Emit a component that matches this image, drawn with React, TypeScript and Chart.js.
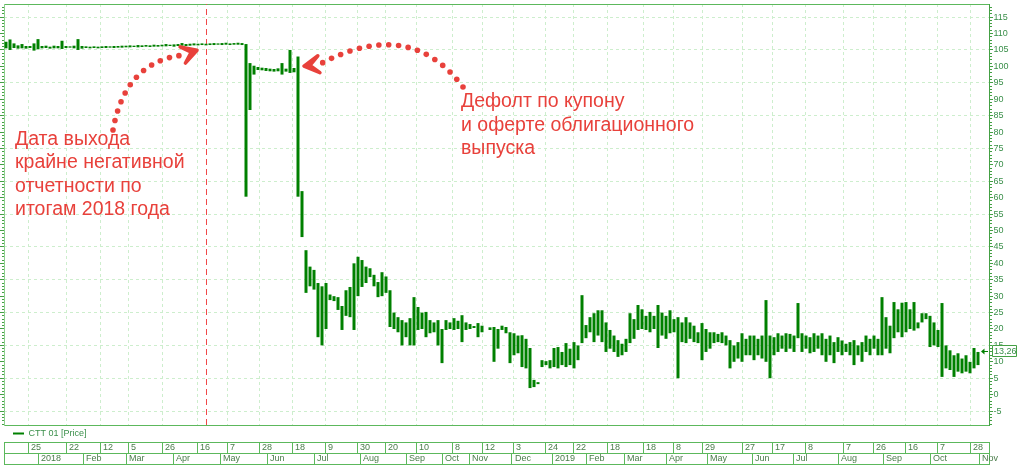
import React, { useEffect, useRef } from 'react';
import { Chart, registerables } from 'chart.js';

Chart.register(...registerables);

// ---------- data (one bar per trading-session slot) ----------
const seriesLabel = 'CTT 01 [Price]';

const priceLow: (number | null)[] = [
  105.5, 105.0, 105.6, 105.4, 105.5, 105.4, 105.6, 104.8, 105.2, 105.5,
  105.6, 105.4, 105.5, 105.5, 105.3, 105.6, 105.7, 105.5, 105.0, 105.4,
  105.6, 105.5, 105.6, 105.5, 105.6, 105.6, 105.7, 105.6, 105.7, 105.7,
  105.8, 105.8, 105.9, 105.8, 105.9, 106.0, 105.9, 106.0, 106.0, 106.1,
  106.1, 106.2, 106.0, 106.2, 106.3, 106.2, 106.3, 106.4, 106.4, 106.5,
  106.4, 106.5, 106.5, 106.6, 106.5, 106.6, 106.5, 106.6, 106.6, 106.5,
  60.3, 86.7, 97.5, 98.9, 98.8, 98.6, 98.5, 98.4, 98.5, 97.5,
  98.4, 98.0, 98.2, 60.3, 48, 31, 33, 32, 17.5, 15,
  20, 28.8, 28.5, 25.8, 19.7, 24, 23.6, 19.7, 30, 32.8,
  34, 35.8, 33, 29.7, 30, 31, 20.6, 20, 19, 15,
  17.5, 15, 15, 19.7, 20, 17.5, 18.7, 19, 15, 9.6,
  19.7, 20, 19.7, 20, 16, 19.7, 20, 20.3, 17.5, 19,
  null, 19.7, 10, 14, 19.7, 18.7, 9.6, 12, 12.6, 8.4,
  8, 2, 2.3, 3.2, 8.4, 9, 8, 8.4, 8, 9,
  8.4, 9, 8, 10.5, 15.7, 17.2, 19, 16, 18, 16,
  13, 14, 13, 11.5, 12, 13, 15.7, 17, 19.7, 20,
  19.7, 19, 20, 14.2, 18, 17, 18.7, 19, 5, 16,
  15.7, 17, 16, 15.7, 10.5, 13, 14, 15.7, 16, 15.7,
  15, 8, 10, 11, 10, 12, 12, 10.5, 12, 11,
  10, 5, 12, 13, 14, 13, 14, 13, 17.2, 13,
  14, 12.6, 13, 14, 12, 10, 12, 9.6, 13, 12,
  13, 12, 9, 12, 10, 13, 12, 14, 12, 12,
  14, 12.6, 17.2, 19, 17.5, 19, 20, 19.5, 20.2, 22,
  23, 14.5, 15, 14.5, 5.4, 8, 7.5, 5.4, 7, 6.5,
  7, 6.5, 8, 9, null, null,
];

const priceHigh: (number | null)[] = [
  107.5, 108.2, 107.0, 106.4, 106.8, 106.2, 106.2, 107.0, 108.3, 106.2,
  106.3, 106.0, 106.3, 106.2, 107.8, 106.2, 106.1, 106.3, 108.3, 106.2,
  106.1, 106.0, 106.1, 106.0, 106.1, 106.2, 106.1, 106.2, 106.2, 106.3,
  106.3, 106.4, 106.3, 106.5, 106.4, 106.5, 106.4, 106.6, 106.5, 106.6,
  106.8, 106.6, 106.7, 106.8, 107.1, 106.8, 106.9, 107.0, 106.9, 107.0,
  106.9, 107.0, 107.1, 107.0, 107.1, 107.2, 107.0, 107.1, 107.2, 107.1,
  106.8, 101, 100.2, 99.8, 99.6, 99.5, 99.3, 99.2, 99.4, 101,
  99.3, 105, 99.5, 103, 62, 44, 39, 38, 34, 33,
  34, 30.5, 30, 29.7, 27, 31.8, 32.8, 40, 42, 41,
  39, 38.5, 36.5, 34.3, 37.3, 36, 31.8, 25, 23.6, 22.7,
  22, 23.3, 29.7, 26.7, 25, 25.2, 22.7, 22, 22.7, 20,
  22.7, 22, 23.3, 22.5, 24.2, 22, 21.5, 20.9, 21.8, 21,
  null, 20.5, 20.6, 20, 21, 20.6, 19, 18.7, 18, 18.1,
  17, 14.2, 4.5, 3.8, 10.5, 10.2, 10.5, 14.2, 14.5, 13,
  15.7, 14, 16, 15, 30.3, 21.2, 23.6, 24.8, 25.7, 25.7,
  22, 19.7, 18, 16.6, 15.5, 17, 24.8, 23, 27.3, 26,
  24, 25.2, 24, 27.3, 25, 24, 25.7, 23, 23.6, 22,
  23.6, 22, 21, 19, 21.8, 20, 19, 19, 18.5, 19,
  18, 16.6, 15, 16, 18.7, 17, 18, 18, 17, 18,
  28.8, 18, 17.5, 18.7, 18, 18.7, 18.5, 18, 27.9, 18.7,
  18, 17.5, 18.7, 18, 18.7, 17, 18, 16, 17.5, 16.5,
  15.5, 16, 16.6, 15, 16, 18, 17, 18, 17, 29.7,
  23.6, 21, 28.2, 26, 28, 28.2, 26, 28.2, 22, 24.8,
  24.8, 24, 22, 19.7, 27.9, 15, 13.5, 12, 12.6, 11,
  12, 10, 14.2, 13, null, null,
];

const lastPrice = 13.26;
const lastPriceText = '13,26';
const reportSlot = 50.625; // publication of the 2018 annual report

// bottom axis: session-slot positions of the date ticks
const dayTickSlots = [6, 15.5, 24, 31, 39.5, 48.25, 55.75, 63.75, 72, 80.25, 88.25, 95.25, 103, 112, 119.5,
  127.25, 135.25, 142.25, 150.75, 159.75, 167.25, 174.5, 184.5, 192, 200.25, 209.75, 217.25, 225.25, 233.25, 241.5];
const dayTickLabels = ['25', '22', '12', '5', '26', '16', '7', '28', '18', '9', '30', '20', '10', '8', '12',
  '3', '24', '22', '18', '18', '8', '29', '27', '17', '8', '7', '26', '16', '7', '28'];
const monthTickSlots = [8.5, 19.75, 30.5, 42.25, 54, 65.75, 77.5, 89, 100.5, 109.5, 116.25, 127,
  137, 145.5, 155, 165.5, 175.75, 187, 197.25, 208.5, 219.75, 231.5, 243.75];
const monthTickLabels = ['2018', 'Feb', 'Mar', 'Apr', 'May', 'Jun', 'Jul', 'Aug', 'Sep', 'Oct', 'Nov', 'Dec',
  '2019', 'Feb', 'Mar', 'Apr', 'May', 'Jun', 'Jul', 'Aug', 'Sep', 'Oct', 'Nov'];

const xMax = 246.25;
const yMin = -9.25;
const yMax = 119;
const yTickValues: number[] = [];
for (let v = -9; v <= 118; v++) yTickValues.push(v);

const note1Lines = ['Дата выхода', 'крайне негативной', 'отчетности по', 'итогам 2018 года'];
const note2Lines = ['Дефолт по купону', 'и оферте облигационного', 'выпуска'];

// annotation anchors in data coordinates (slot, price)
const note1Anchor = { x: 2.75, y: 76.05 };
const note2Anchor = { x: 114.25, y: 87.6 };
const arrow1 = { start: { x: 27.25, y: 80.6 }, ctrl: { x: 30.25, y: 101.3 }, end: { x: 44.5, y: 103.4 }, tip: { x: 48.25, y: 104.9 } };
const arrow2 = { start: { x: 114.75, y: 93.7 }, ctrl: { x: 101.5, y: 115.3 }, end: { x: 79, y: 100.7 }, tip: { x: 75, y: 100.1 } };

// ---------- styles ----------
const FONT = "'Liberation Sans', Arial, Helvetica, sans-serif";
const BAR_GREEN = '#008000';
const AXIS_GREEN = '#44a044';
const LABEL_GREEN = '#3a8f4a';
const DATE_TEXT = '#4a7d4a';
const BOX_GREEN = '#5cb85c';
const GRID_GREEN = '#cdeecd';
const RED = '#e8413b';

function drawDottedArrow(ctx: CanvasRenderingContext2D, p0: any, c: any, p1: any, tip: any) {
  const spacing = 9.6;
  const dots = [p0];
  let prev = p0;
  let acc = 0;
  const N = 400;
  for (let i = 1; i <= N; i++) {
    const t = i / N;
    const x = (1 - t) * (1 - t) * p0.x + 2 * (1 - t) * t * c.x + t * t * p1.x;
    const y = (1 - t) * (1 - t) * p0.y + 2 * (1 - t) * t * c.y + t * t * p1.y;
    acc += Math.hypot(x - prev.x, y - prev.y);
    if (acc >= spacing) {
      dots.push({ x, y });
      acc = 0;
    }
    prev = { x, y };
  }
  ctx.fillStyle = RED;
  dots.forEach((p) => {
    ctx.beginPath();
    ctx.arc(p.x, p.y, 2.8, 0, Math.PI * 2);
    ctx.fill();
  });
  const dx = tip.x - p1.x;
  const dy = tip.y - p1.y;
  const len = Math.hypot(dx, dy) || 1;
  const ux = dx / len;
  const uy = dy / len;
  const nx = -uy;
  const ny = ux;
  const L = 15;
  const W = 8.5;
  const notch = 6;
  ctx.beginPath();
  ctx.moveTo(tip.x, tip.y);
  ctx.lineTo(tip.x - ux * L + nx * W, tip.y - uy * L + ny * W);
  ctx.lineTo(tip.x - ux * notch, tip.y - uy * notch);
  ctx.lineTo(tip.x - ux * L - nx * W, tip.y - uy * L - ny * W);
  ctx.closePath();
  ctx.lineJoin = 'round';
  ctx.lineWidth = 3.5;
  ctx.strokeStyle = RED;
  ctx.fill();
  ctx.stroke();
}

const annotationPlugin = {
  id: 'bondNotes',
  afterLayout(chart: any) {
    if (chart.legend) chart.legend.left += 5;
  },
  afterDraw(chart: any) {
    const { ctx } = chart;
    const xs = chart.scales.x;
    const ys = chart.scales.y;
    const P = (p: any) => ({ x: xs.getPixelForValue(p.x), y: ys.getPixelForValue(p.y) });
    ctx.save();

    // notes
    ctx.fillStyle = RED;
    ctx.font = `19.5px ${FONT}`;
    ctx.textAlign = 'left';
    ctx.textBaseline = 'alphabetic';
    const a1 = P(note1Anchor);
    note1Lines.forEach((t, i) => ctx.fillText(t, a1.x, a1.y + i * 23.5));
    const a2 = P(note2Anchor);
    note2Lines.forEach((t, i) => ctx.fillText(t, a2.x, a2.y + i * 23.5));

    drawDottedArrow(ctx, P(arrow1.start), P(arrow1.ctrl), P(arrow1.end), P(arrow1.tip));
    drawDottedArrow(ctx, P(arrow2.start), P(arrow2.ctrl), P(arrow2.end), P(arrow2.tip));

    // last price marker
    const yp = Math.round(ys.getPixelForValue(lastPrice));
    const bx = Math.round(ys.left) + 3;
    ctx.fillStyle = '#ffffff';
    ctx.fillRect(bx, yp - 6, 25, 12);
    ctx.strokeStyle = AXIS_GREEN;
    ctx.lineWidth = 1;
    ctx.strokeRect(bx + 0.5, yp - 5.5, 24, 11);
    ctx.fillStyle = LABEL_GREEN;
    ctx.font = `9px ${FONT}`;
    ctx.textBaseline = 'middle';
    ctx.fillText(lastPriceText, bx + 2, yp + 0.5);
    const ax = Math.round(ys.left) - 8;
    ctx.fillStyle = BAR_GREEN;
    ctx.beginPath();
    ctx.moveTo(ax, yp + 0.5);
    ctx.lineTo(ax + 3.5, yp - 2.5);
    ctx.lineTo(ax + 3.5, yp + 3.5);
    ctx.closePath();
    ctx.fill();
    ctx.strokeStyle = BAR_GREEN;
    ctx.beginPath();
    ctx.moveTo(ax + 3, yp + 0.5);
    ctx.lineTo(ax + 7, yp + 0.5);
    ctx.stroke();

    ctx.restore();
  },
};

export default function App() {
  const canvasRef = useRef<HTMLCanvasElement | null>(null);

  useEffect(() => {
    const canvas = canvasRef.current;
    if (!canvas) return;

    const barData: any[] = [];
    priceLow.forEach((lo, i) => {
      const hi = priceHigh[i];
      if (lo != null && hi != null) barData.push({ x: i + 0.5, y: [lo, hi] });
    });

    const dayTicks = [0, ...dayTickSlots, xMax];
    const dayLabels = ['', ...dayTickLabels, ''];
    const monthTicks = [0, ...monthTickSlots, xMax];
    const monthLabels = ['', ...monthTickLabels, ''];
    const isMajor = (v: number) => v % 5 === 0;

    const rowAxis = (weight: number, ticksArr: number[], labels: string[]) => ({
      type: 'linear',
      axis: 'x',
      position: 'bottom',
      weight,
      min: 0,
      max: xMax,
      offset: false,
      afterBuildTicks: (s: any) => {
        s.ticks = ticksArr.map((v) => ({ value: v }));
      },
      afterFit: (s: any) => {
        s.height = 11;
      },
      ticks: {
        autoSkip: false,
        maxRotation: 0,
        minRotation: 0,
        align: 'start',
        labelOffset: 3,
        padding: -10.9,
        color: DATE_TEXT,
        font: { size: 9, family: FONT },
        callback: (_v: any, i: number) => labels[i],
      },
      grid: { drawOnChartArea: false, drawTicks: true, tickLength: 11, tickColor: BOX_GREEN, tickWidth: 1, offset: false },
      border: { display: true, color: BOX_GREEN, width: 1 },
    });

    const chart = new Chart(canvas, {
      type: 'bar',
      data: {
        datasets: [
          {
            type: 'bar',
            label: seriesLabel,
            data: barData,
            backgroundColor: BAR_GREEN,
            borderWidth: 0,
            barThickness: 3,
            inflateAmount: 0,
            grouped: false,
            xAxisID: 'x',
            yAxisID: 'y',
          } as any,
          {
            type: 'line',
            label: 'report',
            data: [
              { x: reportSlot, y: yMin },
              { x: reportSlot, y: yMax },
            ],
            borderColor: '#f04848',
            borderWidth: 1,
            borderDash: [6, 4],
            pointRadius: 0,
            xAxisID: 'x',
            yAxisID: 'y',
          } as any,
        ],
      },
      options: {
        responsive: false,
        animation: false,
        devicePixelRatio: 1,
        events: [],
        layout: { padding: { top: 4, bottom: 2, left: 0, right: 0 } },
        plugins: {
          tooltip: { enabled: false },
          legend: {
            display: true,
            position: 'bottom',
            align: 'start',
            fullSize: false,
            maxHeight: 17,
            labels: {
              usePointStyle: true,
              pointStyle: 'line',
              pointStyleWidth: 11,
              padding: 4,
              color: LABEL_GREEN,
              font: { size: 9, family: FONT },
              generateLabels: () => [
                {
                  text: seriesLabel,
                  fillStyle: BAR_GREEN,
                  strokeStyle: BAR_GREEN,
                  lineWidth: 2,
                  pointStyle: 'line',
                  hidden: false,
                  datasetIndex: 0,
                  fontColor: LABEL_GREEN,
                },
              ],
            },
          },
        },
        scales: {
          x: {
            type: 'linear',
            position: 'bottom',
            min: 0,
            max: xMax,
            offset: false,
            afterBuildTicks: (s: any) => {
              s.ticks = dayTickSlots.map((v) => ({ value: v }));
            },
            afterFit: (s: any) => {
              s.height = 0;
            },
            ticks: { display: false, autoSkip: false },
            grid: { color: GRID_GREEN, drawTicks: false, offset: false },
            border: { display: true, color: BOX_GREEN, width: 1, dash: [3, 3] },
          },
          xTop: {
            type: 'linear',
            axis: 'x',
            position: 'top',
            min: 0,
            max: xMax,
            afterFit: (s: any) => {
              s.height = 0;
            },
            ticks: { display: false },
            grid: { drawOnChartArea: false, drawTicks: false },
            border: { display: true, color: BOX_GREEN, width: 1 },
          },
          xDay: rowAxis(1001, dayTicks, dayLabels),
          xMonth: rowAxis(1002, monthTicks, monthLabels),
          xEnd: {
            type: 'linear',
            axis: 'x',
            position: 'bottom',
            weight: 1003,
            min: 0,
            max: xMax,
            afterFit: (s: any) => {
              s.height = 0;
            },
            ticks: { display: false },
            grid: { drawOnChartArea: false, drawTicks: false },
            border: { display: true, color: BOX_GREEN, width: 1 },
          },
          y: {
            type: 'linear',
            position: 'right',
            min: yMin,
            max: yMax,
            afterBuildTicks: (s: any) => {
              s.ticks = yTickValues.map((v) => ({ value: v }));
            },
            afterFit: (s: any) => {
              s.width = 34;
            },
            ticks: {
              autoSkip: false,
              padding: 0.5,
              color: LABEL_GREEN,
              font: { size: 9, family: FONT, lineHeight: 0.4 },
              callback: (v: any) => (isMajor(v) ? String(v) : ''),
            },
            grid: {
              color: (c: any) => ((c.tick.value + 5) % 10 === 0 ? GRID_GREEN : 'rgba(0,0,0,0)'),
              tickLength: 4,
              tickColor: AXIS_GREEN,
              tickBorderDash: (c: any) => (isMajor(c.tick.value) ? [] : [2, 2]),
            },
            border: { display: true, color: AXIS_GREEN, width: 1, dash: [3, 3] },
          },
          yL: {
            type: 'linear',
            axis: 'y',
            position: 'left',
            min: yMin,
            max: yMax,
            afterBuildTicks: (s: any) => {
              s.ticks = yTickValues.map((v) => ({ value: v }));
            },
            afterFit: (s: any) => {
              s.width = 4;
            },
            ticks: { display: false, autoSkip: false },
            grid: {
              drawOnChartArea: false,
              tickLength: 4,
              tickColor: AXIS_GREEN,
              tickBorderDash: (c: any) => (isMajor(c.tick.value) ? [] : [2, 2]),
              tickBorderDashOffset: (c: any) => (isMajor(c.tick.value) ? 0 : 2),
            },
            border: { display: true, color: '#8fd08f', width: 1 },
          },
        },
      } as any,
      plugins: [annotationPlugin as any],
    });

    return () => chart.destroy();
  }, []);

  return (
    <div style={{ position: 'absolute', left: 0, top: 0, width: 1023, height: 466, background: '#ffffff' }}>
      <canvas ref={canvasRef} width={1023} height={466} style={{ display: 'block', width: 1023, height: 466 }} />
    </div>
  );
}
